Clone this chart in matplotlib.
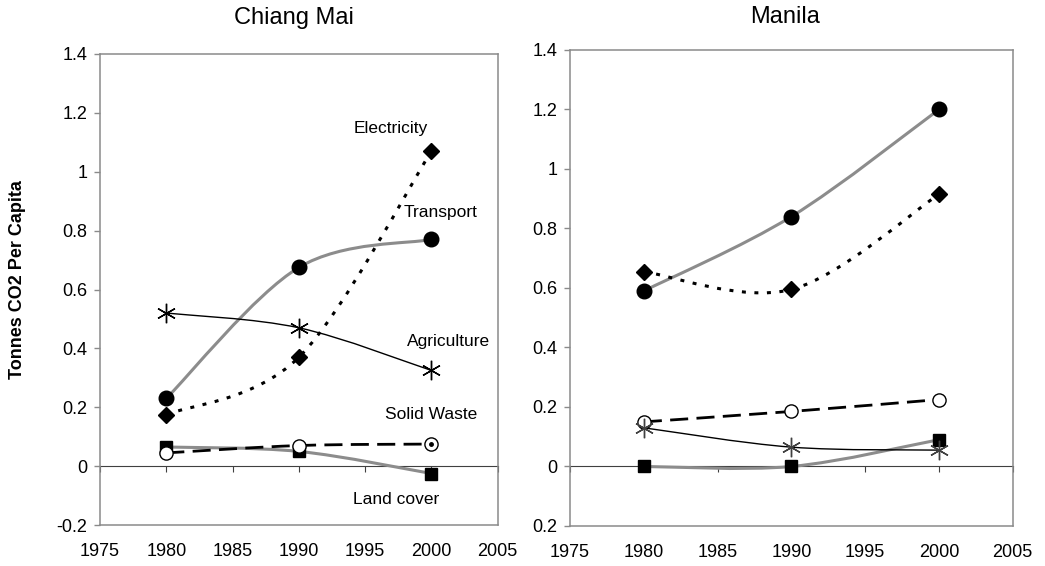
import matplotlib
matplotlib.use("Agg")
import matplotlib.pyplot as plt
from matplotlib.path import Path
from matplotlib.patches import PathPatch
from matplotlib.ticker import FixedLocator, FixedFormatter

plt.rcParams['font.family'] = ['Liberation Sans', 'DejaVu Sans']

years = [1980, 1990, 2000]

# Chiang Mai
cm_transport = [0.23, 0.675, 0.77]
cm_electricity = [0.175, 0.37, 1.07]
cm_agriculture = [0.52, 0.47, 0.325]
cm_solid_waste = [0.045, 0.07, 0.075]
cm_land_cover = [0.065, 0.05, -0.025]

# Manila
mn_transport = [0.59, 0.84, 1.2]
mn_electricity = [0.655, 0.595, 0.915]
mn_agriculture = [0.13, 0.065, 0.055]
mn_solid_waste = [0.15, 0.185, 0.225]
mn_land_cover = [0.0, 0.0, 0.09]

x_ticks = [1975, 1980, 1985, 1990, 1995, 2000, 2005]
y_ticks = [-0.2, 0, 0.2, 0.4, 0.6, 0.8, 1.0, 1.2, 1.4]
cm_ylabels = ['-0.2', '0', '0.2', '0.4', '0.6', '0.8', '1', '1.2', '1.4']
mn_ylabels = ['0.2', '0', '0.2', '0.4', '0.6', '0.8', '1', '1.2', '1.4']

GRAY = '#8c8c8c'
FRAME = '#8a8a8a'


def smooth_line(ax, xs, ys, **kw):
    # excel style smoothed line: catmull-rom curve drawn as bezier path
    pts = list(zip(xs, ys))
    n = len(pts)
    verts = [pts[0]]
    codes = [Path.MOVETO]
    for i in range(n - 1):
        p0 = pts[i - 1] if i > 0 else pts[i]
        p1 = pts[i]
        p2 = pts[i + 1]
        p3 = pts[i + 2] if i + 2 < n else pts[i + 1]
        c1 = (p1[0] + (p2[0] - p0[0]) / 6, p1[1] + (p2[1] - p0[1]) / 6)
        c2 = (p2[0] - (p3[0] - p1[0]) / 6, p2[1] - (p3[1] - p1[1]) / 6)
        verts += [c1, c2, p2]
        codes += [Path.CURVE4] * 3
    ax.add_patch(PathPatch(Path(verts, codes), facecolor='none', **kw))


def draw_panel(ax, transport, electricity, agriculture, waste, land, ylabels, agri_color):
    smooth_line(ax, years, transport, edgecolor=GRAY, lw=2.2, zorder=3)
    smooth_line(ax, years, land, edgecolor=GRAY, lw=2.2, zorder=3)
    smooth_line(ax, years, agriculture, edgecolor='black', lw=1.0, zorder=3)
    smooth_line(ax, years, electricity, edgecolor='black', lw=2.2,
                linestyle=(0, (1.3, 2.8)), zorder=3)
    smooth_line(ax, years, waste, edgecolor='black', lw=2.0,
                linestyle=(0, (6.5, 3)), zorder=3)

    ax.plot(years, transport, ls='none', marker='o', ms=10.5, color='black', zorder=5)
    ax.plot(years, electricity, ls='none', marker='D', ms=8, color='black', zorder=5)
    ax.plot(years, land, ls='none', marker='s', ms=9, color='black', zorder=5)
    ax.plot(years, waste, ls='none', marker='o', ms=9.5, mfc='white',
            mec='black', mew=1.0, zorder=5)
    ax.plot(years, agriculture, ls='none', marker=(6, 2, 0), ms=14,
            mec=agri_color, mew=1.0, zorder=5)

    ax.set_xlim(1975, 2005)
    ax.set_ylim(-0.2, 1.4)
    ax.xaxis.set_major_locator(FixedLocator(x_ticks))
    ax.yaxis.set_major_locator(FixedLocator(y_ticks))
    ax.yaxis.set_major_formatter(FixedFormatter(ylabels))
    ax.tick_params(axis='x', length=0, pad=13, labelsize=13)
    ax.tick_params(axis='y', length=4, width=1, color=FRAME, pad=5,
                   direction='out', labelsize=13)
    for sp in ax.spines.values():
        sp.set_color(FRAME)
        sp.set_linewidth(1.1)

    # x axis crossing at zero
    zero = ax.secondary_xaxis(0.125)
    zero.set_xticks(x_ticks)
    zero.tick_params(axis='x', direction='out', length=4, color='#404040',
                     labelbottom=False, width=0.8)
    zero.spines['bottom'].set_color('#404040')
    zero.spines['bottom'].set_linewidth(0.8)


fig = plt.figure(figsize=(10.45, 5.66), dpi=100)
ax1 = fig.add_axes([0.0957, 0.0724, 0.3806, 0.8322])
ax2 = fig.add_axes([0.5455, 0.0707, 0.4236, 0.841])

draw_panel(ax1, cm_transport, cm_electricity, cm_agriculture, cm_solid_waste,
           cm_land_cover, cm_ylabels, 'black')
draw_panel(ax2, mn_transport, mn_electricity, mn_agriculture, mn_solid_waste,
           mn_land_cover, mn_ylabels, '#404040')

# dot inside the last solid waste marker
ax1.plot(years[-1:], cm_solid_waste[-1:], ls='none', marker='o', ms=2.5,
         color='black', zorder=6)

lab = dict(fontsize=12.5, ha='center', va='center')
ax1.text(1996.9, 1.148, 'Electricity', **lab)
ax1.text(2000.7, 0.86, 'Transport', **lab)
ax1.text(2001.3, 0.425, 'Agriculture', **lab)
ax1.text(2000.0, 0.177, 'Solid Waste', **lab)
ax1.text(1997.3, -0.115, 'Land cover', **lab)

fig.text(294 / 1045, 1 - 18 / 566, 'Chiang Mai', fontsize=17, ha='center', va='center')
fig.text(785 / 1045, 1 - 17 / 566, 'Manila', fontsize=17, ha='center', va='center')
fig.text(18 / 1045, 1 - 280 / 566, 'Tonnes CO2 Per Capita', fontsize=13,
         fontweight='bold', rotation=90, ha='center', va='center')

fig.savefig('out.png', dpi=100)
